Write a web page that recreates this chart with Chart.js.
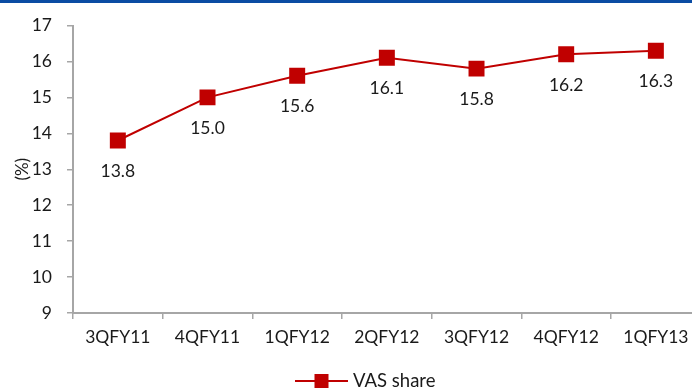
<!DOCTYPE html>
<html>
<head>
<meta charset="utf-8">
<script src="https://cdn.jsdelivr.net/npm/chart.js@4/dist/chart.umd.min.js"></script>
<style>
  html, body { margin: 0; padding: 0; background: #fff; }
  #wrap { position: relative; width: 692px; height: 392px; overflow: hidden; }
  #topbar { position: absolute; left: 0; top: 0; width: 692px; height: 3px; background: #0a4ca3; z-index: 2; }
  #c { position: absolute; left: 0; top: 0; }
</style>
</head>
<body>
<div id="wrap">
  <div id="topbar"></div>
  <canvas id="c" width="712" height="392"></canvas>
</div>
<script>
// Quarterly share of value-added services (VAS) in revenue, %
const quarters = ['3QFY11', '4QFY11', '1QFY12', '2QFY12', '3QFY12', '4QFY12', '1QFY13'];
const vasShare = [13.8, 15.0, 15.6, 16.1, 15.8, 16.2, 16.3];
const seriesName = 'VAS share';
const yTicks = [9, 10, 11, 12, 13, 14, 15, 16, 17];

const RED = '#c00000';
const AXIS = '#a6a6a6';
const TEXT = '#1a1a1a';
const FONT = 'Lato, "Open Sans", sans-serif';

// value labels under each marker
const valueLabels = {
  id: 'valueLabels',
  afterDatasetsDraw(chart) {
    const ctx = chart.ctx;
    const meta = chart.getDatasetMeta(0);
    ctx.save();
    ctx.font = '17.5px ' + FONT;
    ctx.fillStyle = TEXT;
    ctx.textAlign = 'center';
    ctx.textBaseline = 'middle';
    meta.data.forEach((pt, i) => {
      ctx.fillText(vasShare[i].toFixed(1), pt.x, pt.y + 31);
    });
    ctx.restore();
  }
};

// legend: line with square marker, then series name
const lineLegend = {
  id: 'lineLegend',
  afterDraw(chart) {
    const ctx = chart.ctx;
    const y = 381;
    const x0 = 295, x1 = 348;
    ctx.save();
    ctx.strokeStyle = RED;
    ctx.lineWidth = 2;
    ctx.beginPath();
    ctx.moveTo(x0, y);
    ctx.lineTo(x1, y);
    ctx.stroke();
    ctx.fillStyle = RED;
    ctx.fillRect((x0 + x1) / 2 - 7, y - 7, 14, 14);
    ctx.font = '18.5px ' + FONT;
    ctx.fillStyle = TEXT;
    ctx.textAlign = 'left';
    ctx.textBaseline = 'middle';
    ctx.fillText(seriesName, 353, y);
    ctx.restore();
  }
};

new Chart(document.getElementById('c'), {
  type: 'line',
  data: {
    labels: quarters,
    datasets: [{
      label: seriesName,
      data: vasShare,
      borderColor: RED,
      backgroundColor: RED,
      borderWidth: 2,
      pointStyle: 'rect',
      pointRadius: 11.3,
      pointHoverRadius: 11.3,
      pointBorderWidth: 0,
      pointBackgroundColor: RED,
      tension: 0
    }]
  },
  options: {
    responsive: false,
    animation: false,
    events: [],
    layout: { padding: { top: 24, right: 11, bottom: 34, left: 0 } },
    plugins: {
      legend: { display: false },
      tooltip: { enabled: false }
    },
    scales: {
      x: {
        type: 'category',
        offset: true,
        afterFit(scale) { scale.height = 45; },
        border: { display: true, color: AXIS, width: 2 },
        grid: {
          display: true,
          offset: true,
          drawOnChartArea: false,
          drawTicks: true,
          tickLength: 6,
          color: AXIS,
          lineWidth: 1.5
        },
        ticks: {
          color: TEXT,
          font: { family: FONT, size: 17.5 },
          padding: 8,
          maxRotation: 0,
          autoSkip: false
        }
      },
      y: {
        min: yTicks[0],
        max: yTicks[yTicks.length - 1],
        afterFit(scale) { scale.width = 73; },
        afterBuildTicks(scale) { scale.ticks = yTicks.map(v => ({ value: v })); },
        border: { display: true, color: AXIS, width: 2 },
        grid: {
          display: true,
          drawOnChartArea: false,
          drawTicks: true,
          tickLength: 6,
          color: AXIS,
          lineWidth: 1.5
        },
        ticks: {
          color: TEXT,
          font: { family: FONT, size: 17.5 },
          padding: 15,
          stepSize: 1
        },
        title: {
          display: true,
          text: '(%)',
          color: TEXT,
          font: { family: FONT, size: 17 },
          padding: { top: 12, bottom: 0 }
        }
      }
    }
  },
  plugins: [valueLabels, lineLegend]
});
</script>
</body>
</html>
